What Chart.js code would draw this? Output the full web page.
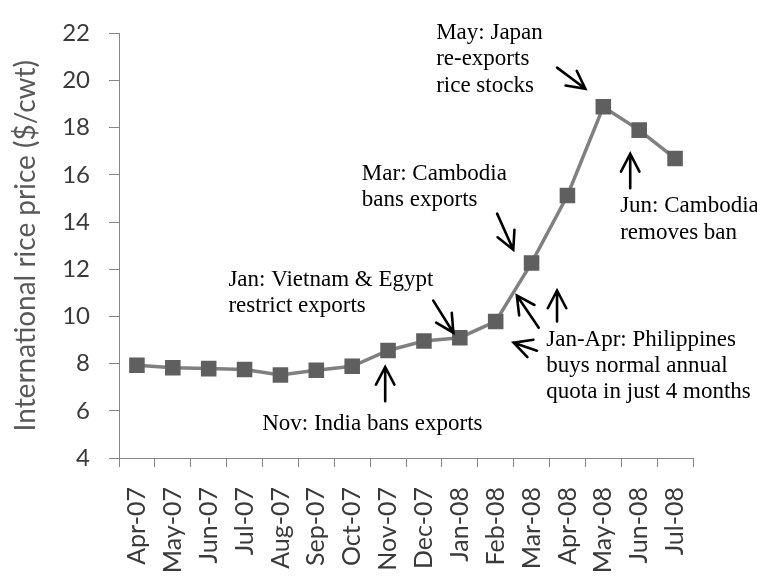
<!DOCTYPE html>
<html>
<head>
<meta charset="utf-8">
<script src="https://cdn.jsdelivr.net/npm/chart.js@4.4.1/dist/chart.umd.min.js"></script>
<style>
  html, body { margin: 0; padding: 0; background: #fff; }
  #wrap { width: 757px; height: 577px; }
</style>
</head>
<body>
<div id="wrap"><canvas id="riceChart" width="757" height="577"></canvas></div>
<script>
// datos del gráfico
const months = ['Apr-07', 'May-07', 'Jun-07', 'Jul-07', 'Aug-07', 'Sep-07', 'Oct-07', 'Nov-07',
                'Dec-07', 'Jan-08', 'Feb-08', 'Mar-08', 'Apr-08', 'May-08', 'Jun-08', 'Jul-08'];
const prices = [7.93, 7.83, 7.79, 7.75, 7.52, 7.72, 7.89, 8.56,
                8.96, 9.10, 9.79, 12.27, 15.13, 18.89, 17.90, 16.70];
const yTicks = [4, 6, 8, 10, 12, 14, 16, 18, 20, 22];

// notas: texto y ancla de la primera linea base (indice de mes, valor)
const noteLines = [
    ['May: Japan', 're-exports', 'rice stocks'],
    ['Mar: Cambodia', 'bans exports'],
    ['Jun: Cambodia', 'removes ban'],
    ['Jan: Vietnam & Egypt', 'restrict exports'],
    ['Nov: India bans exports'],
    ['Jan-Apr: Philippines', 'buys normal annual', 'quota in just 4 months']
];
const noteAt = [[8.34, 21.75], [6.27, 15.79], [13.47, 14.41], [2.55, 11.28], [3.49, 5.17], [11.41, 8.76]];

// flechas: [x cola, y cola, x punta, y punta]
const arrows = [
    [6.92, 6.41, 6.92, 7.86],
    [8.26, 10.67, 8.82, 9.31],
    [10.04, 14.36, 10.49, 12.83],
    [11.71, 20.55, 12.50, 19.65],
    [13.75, 15.44, 13.75, 16.89],
    [11.20, 9.52, 10.59, 10.89],
    [11.71, 9.79, 11.71, 11.10],
    [11.15, 8.55, 10.50, 8.89]
];

const notesPlugin = {
    id: 'notes',
    afterDatasetsDraw(chart) {
        const ctx = chart.ctx;
        const xs = chart.scales.x, ys = chart.scales.y;
        const px = v => xs.getPixelForDecimal((v + 0.5) / months.length);
        ctx.save();
        ctx.fillStyle = '#000';
        ctx.font = '23px "Liberation Serif"';
        ctx.textAlign = 'left';
        ctx.textBaseline = 'alphabetic';
        noteLines.forEach((lines, i) => {
            const x = px(noteAt[i][0]);
            const y = ys.getPixelForValue(noteAt[i][1]);
            lines.forEach((t, j) => ctx.fillText(t, x, y + j * 26.2));
        });
        ctx.strokeStyle = '#000';
        ctx.lineWidth = 2.6;
        ctx.lineCap = 'round';
        arrows.forEach(a => {
            const x1 = px(a[0]), y1 = ys.getPixelForValue(a[1]);
            const x2 = px(a[2]), y2 = ys.getPixelForValue(a[3]);
            const ang = Math.atan2(y2 - y1, x2 - x1);
            const w = 20, spread = 0.48;
            ctx.beginPath();
            ctx.moveTo(x1, y1);
            ctx.lineTo(x2, y2);
            ctx.moveTo(x2 - w * Math.cos(ang - spread), y2 - w * Math.sin(ang - spread));
            ctx.lineTo(x2, y2);
            ctx.lineTo(x2 - w * Math.cos(ang + spread), y2 - w * Math.sin(ang + spread));
            ctx.stroke();
        });
        ctx.restore();
    }
};

const ctx = document.getElementById('riceChart').getContext('2d');
new Chart(ctx, {
    type: 'line',
    data: {
        labels: months,
        datasets: [{
            data: prices,
            borderColor: '#808080',
            borderWidth: 3.5,
            pointStyle: 'rect',
            pointRadius: 11,
            pointBackgroundColor: '#5f5f5f',
            pointBorderColor: '#5f5f5f',
            pointBorderWidth: 0,
            tension: 0
        }]
    },
    options: {
        responsive: false,
        animation: false,
        layout: { padding: { top: 23, right: 64, left: 0, bottom: 0 } },
        plugins: {
            legend: { display: false },
            tooltip: { enabled: false }
        },
        scales: {
            x: {
                offset: true,
                grid: { drawOnChartArea: false, drawTicks: true, tickLength: 9, color: '#868686', offset: true },
                border: { color: '#868686', width: 1 },
                ticks: {
                    color: '#3a3a3a',
                    font: { family: 'Lato', size: 25 },
                    maxRotation: 90, minRotation: 90,
                    autoSkip: false,
                    padding: 20
                },
                afterFit(scale) { scale.height = 119; }
            },
            y: {
                min: 4,
                max: 22,
                afterBuildTicks(scale) { scale.ticks = yTicks.map(v => ({ value: v })); },
                grid: { drawOnChartArea: false, drawTicks: true, tickLength: 10, color: '#868686' },
                border: { color: '#868686', width: 1 },
                ticks: {
                    color: '#3a3a3a',
                    font: { family: 'Lato', size: 24 },
                    padding: 19
                },
                title: {
                    display: true,
                    text: 'International rice price ($/cwt)',
                    color: '#595959',
                    font: { family: 'Lato', size: 28 },
                    padding: { top: 9, bottom: 0 }
                },
                afterFit(scale) { scale.width = 119; }
            }
        }
    },
    plugins: [notesPlugin]
});
</script>
</body>
</html>
